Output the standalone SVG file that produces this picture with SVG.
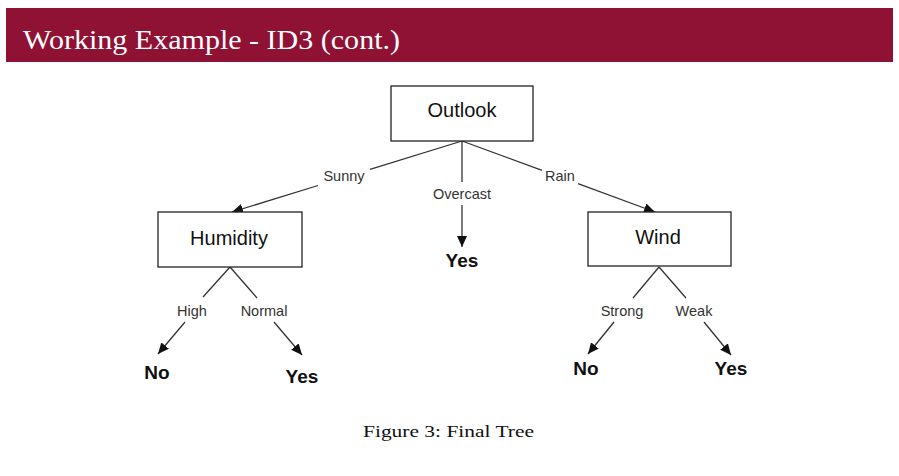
<svg xmlns="http://www.w3.org/2000/svg" width="899" height="476" viewBox="0 0 899 476">
<style>
.box{fill:#fff;stroke:#222;stroke-width:1.3}
.nl{font-family:"Liberation Sans",Arial,sans-serif;font-size:20px;fill:#111;text-anchor:middle}
.leaf{font-family:"Liberation Sans",Arial,sans-serif;font-size:19px;font-weight:bold;fill:#111;text-anchor:middle}
.el{font-family:"Liberation Sans",Arial,sans-serif;font-size:14.5px;fill:#333;text-anchor:middle}
.edge{stroke:#333;stroke-width:1.3;fill:none}
</style>
<defs>
<marker id="ah" markerUnits="userSpaceOnUse" markerWidth="12" markerHeight="10" refX="11" refY="5" orient="auto">
<path d="M0,0 L11,5 L0,10 z" fill="#111"/>
</marker>
</defs>
<rect width="899" height="476" fill="#fff"/>
<g id="header">
<rect x="6" y="8" width="887" height="54" fill="#8F1134"/>
<text x="23" y="49" font-family="'Liberation Serif','DejaVu Serif',serif" font-size="27" fill="#fff" textLength="377" lengthAdjust="spacingAndGlyphs">Working Example - ID3 (cont.)</text>
</g>
<g id="connectors">
<path class="edge" d="M462,141 L370,169.4"/>
<path class="edge" d="M318,185.5 L232,212" marker-end="url(#ah)"/>
<text class="el" x="344" y="181">Sunny</text>
<path class="edge" d="M462,141 L462,182"/>
<path class="edge" d="M462,205 L462,247" marker-end="url(#ah)"/>
<text class="el" x="462" y="199">Overcast</text>
<path class="edge" d="M462,141 L542,170.4"/>
<path class="edge" d="M578,183.7 L655,212" marker-end="url(#ah)"/>
<text class="el" x="560" y="181">Rain</text>
<path class="edge" d="M230,267 L203,297"/>
<path class="edge" d="M185,322 L158,354" marker-end="url(#ah)"/>
<text class="el" x="192" y="316">High</text>
<path class="edge" d="M230,267 L257,298"/>
<path class="edge" d="M274,322 L302,355" marker-end="url(#ah)"/>
<text class="el" x="264" y="316">Normal</text>
<path class="edge" d="M659,267 L633,298"/>
<path class="edge" d="M614,322 L588,354" marker-end="url(#ah)"/>
<text class="el" x="622" y="316">Strong</text>
<path class="edge" d="M659,267 L686,298"/>
<path class="edge" d="M704,322 L731,355" marker-end="url(#ah)"/>
<text class="el" x="694" y="316">Weak</text>
</g>
<g id="outlook">
<rect class="box" x="391" y="86" width="142" height="55"/>
<text class="nl" x="462" y="117">Outlook</text>
</g>
<g id="humidity">
<rect class="box" x="158" y="212" width="144" height="55"/>
<text class="nl" x="229" y="245">Humidity</text>
</g>
<g id="wind">
<rect class="box" x="588" y="212" width="143" height="54"/>
<text class="nl" x="658" y="244">Wind</text>
</g>
<g id="yes-overcast"><text class="leaf" x="462" y="267">Yes</text></g>
<g id="no-high"><text class="leaf" x="157" y="379">No</text></g>
<g id="yes-normal"><text class="leaf" x="302" y="383">Yes</text></g>
<g id="no-strong"><text class="leaf" x="586" y="375">No</text></g>
<g id="yes-weak"><text class="leaf" x="731" y="375">Yes</text></g>
<g id="caption">
<text x="363" y="437" font-family="'Liberation Serif','DejaVu Serif',serif" font-size="17" fill="#111" textLength="171" lengthAdjust="spacingAndGlyphs">Figure 3: Final Tree</text>
</g>
</svg>
